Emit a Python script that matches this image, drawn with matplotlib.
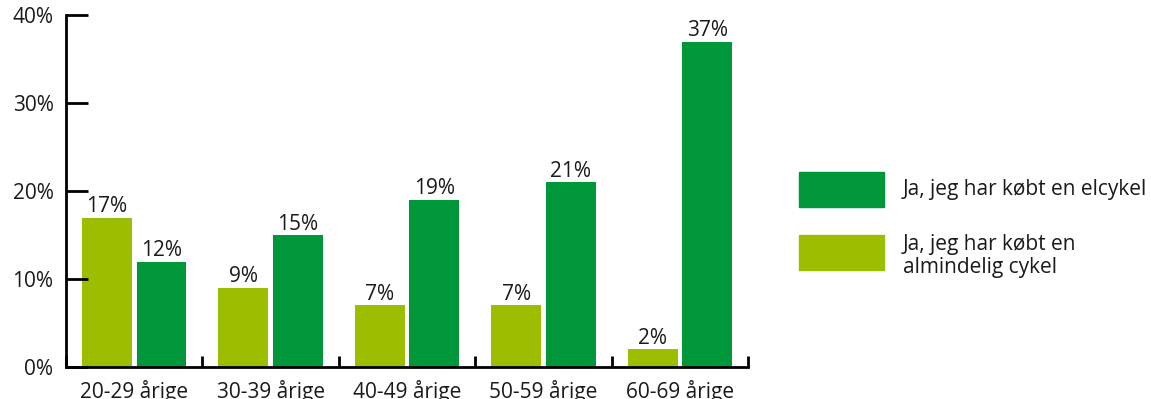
import numpy as np
import matplotlib
matplotlib.use("Agg")
import matplotlib.pyplot as plt
from matplotlib.patches import Rectangle

# data
groups = ["20-29 årige", "30-39 årige", "40-49 årige", "50-59 årige", "60-69 årige"]
almindelig = [17, 9, 7, 7, 2]
elcykel = [12, 15, 19, 21, 37]
label_el = "Ja, jeg har købt en elcykel"
label_alm = "Ja, jeg har købt en\nalmindelig cykel"

dark = "#00963A"
light = "#9BBE00"
txt = "#1a1a1a"

plt.rcParams['font.family'] = ['Open Sans', 'DejaVu Sans']
fs = 15

fig = plt.figure(figsize=(11.51, 3.99), dpi=100)
ax = fig.add_axes([0.0573, 0.080, 0.5927, 0.882])

x = np.arange(len(groups))
w = 0.365
b1 = ax.bar(x - 0.2, almindelig, w, color=light)
b2 = ax.bar(x + 0.2, elcykel, w, color=dark)

for bars, vals in ((b1, almindelig), (b2, elcykel)):
    for r, v in zip(bars, vals):
        ax.text(r.get_x() + r.get_width() / 2, v + 0.05, f"{v}%",
                ha="center", va="bottom", fontsize=fs, color=txt)

ax.set_xlim(-0.5, len(groups) - 0.5)
ax.set_ylim(0, 40)
ax.set_yticks([0, 10, 20, 30, 40])
ax.set_yticklabels([f"{t}%" for t in [0, 10, 20, 30, 40]])
ax.tick_params(axis="y", direction="in", length=16, width=2, pad=9,
               labelsize=fs, colors="black", labelcolor=txt)

# group labels centered, boundary ticks
ax.set_xticks(x)
ax.set_xticklabels(groups)
ax.tick_params(axis="x", length=0, pad=9, labelsize=fs, labelcolor=txt)
ax.set_xticks(np.arange(len(groups) + 1) - 0.5, minor=True)
ax.tick_params(axis="x", which="minor", direction="in", length=8, width=2)

for s in ("top", "right"):
    ax.spines[s].set_visible(False)
for s in ("left", "bottom"):
    ax.spines[s].set_linewidth(2)

# legend drawn by hand to match the layout
for yb, col, lab, yt in ((0.4812, dark, label_el, 0.5250),
                         (0.3233, light, label_alm, 0.3580)):
    fig.patches.append(Rectangle((0.6942, yb), 0.0738, 0.0877, color=col,
                                 transform=fig.transFigure))
    fig.text(0.7845, yt, lab, ha="left", va="center", fontsize=fs,
             color=txt, linespacing=1.1)

fig.savefig("out.png", dpi=100)
